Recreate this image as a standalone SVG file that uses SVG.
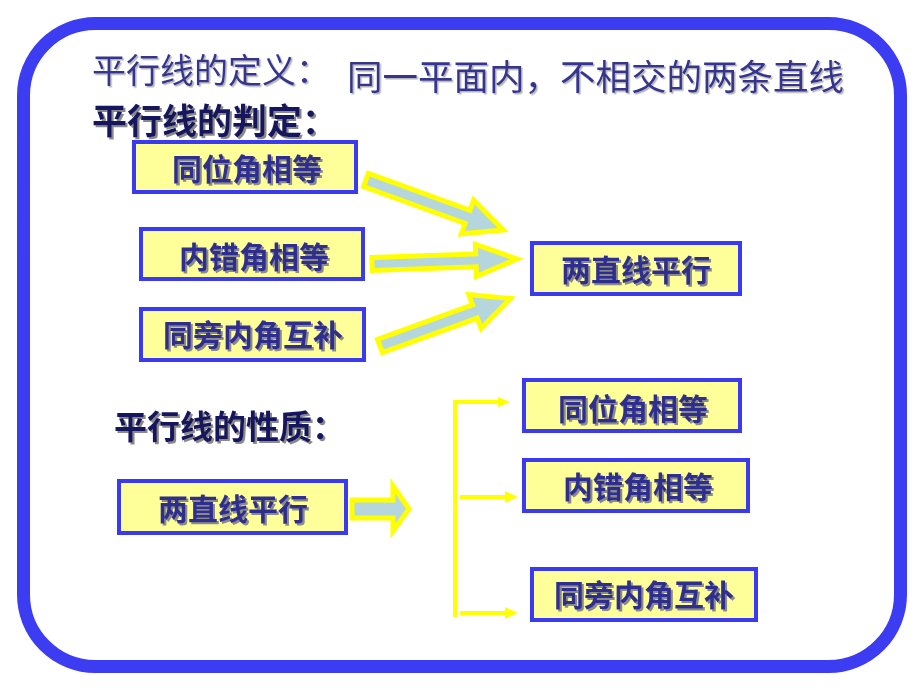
<svg xmlns="http://www.w3.org/2000/svg" width="920" height="690" viewBox="0 0 920 690">
<defs>
<filter id="sh" x="-10%" y="-20%" width="130%" height="150%">
<feDropShadow dx="2" dy="2" stdDeviation="0.4" flood-color="#8a8a8a" flood-opacity="1"/>
</filter>
<filter id="shl" x="-10%" y="-20%" width="130%" height="150%">
<feDropShadow dx="1.5" dy="1.5" stdDeviation="0.4" flood-color="#a0a0a0" flood-opacity="0.8"/>
</filter>
</defs>
<style>
.frame{fill:#fff;stroke:#3c3cf2;stroke-width:13}
.box{fill:#ffff99;stroke:#3a3af0;stroke-width:4}
.bt{font-family:"Noto Sans CJK SC","Noto Sans CJK TC",sans-serif;font-weight:bold;font-size:30px;fill:#2e2e8e;text-anchor:middle;filter:url(#sh)}
.hd{font-family:"Noto Sans CJK SC","Noto Sans CJK TC",sans-serif;font-weight:bold;fill:#14145e;filter:url(#sh)}
.tt{font-family:"Noto Sans CJK SC","Noto Sans CJK TC",sans-serif;font-weight:normal;fill:#36368f;filter:url(#shl)}
.fat{fill:#b6d6de;stroke:#ffff00;stroke-width:5;stroke-linejoin:miter}
.yl{stroke:#ffff00;stroke-width:4;fill:none}
.yh{fill:#ffff00}
</style>
<rect class="frame" x="23.5" y="23.5" width="877" height="643" rx="72" ry="72"/>
<g id="title">
<text class="tt" x="92" y="83" font-size="34">平行线的定义：</text>
<text class="tt" x="347" y="90" font-size="35.5">同一平面内，不相交的两条直线</text>
</g>
<g id="heading1"><text class="hd" x="92" y="134" font-size="35">平行线的判定：</text></g>
<g id="heading2"><text class="hd" x="114" y="439" font-size="33">平行线的性质：</text></g>
<g id="j1"><rect class="box" x="134" y="142" width="222" height="50"/><text class="bt" x="247" y="180">同位角相等</text></g>
<g id="j2"><rect class="box" x="141" y="229" width="222" height="50"/><text class="bt" x="254" y="268">内错角相等</text></g>
<g id="j3"><rect class="box" x="141" y="309" width="223" height="51"/><text class="bt" x="253" y="346">同旁内角互补</text></g>
<g id="t1"><rect class="box" x="532" y="243" width="208" height="51"/><text class="bt" x="636" y="281">两直线平行</text></g>
<g id="p0"><rect class="box" x="119" y="481" width="227" height="52"/><text class="bt" x="233" y="520">两直线平行</text></g>
<g id="p1"><rect class="box" x="524" y="380" width="216" height="51"/><text class="bt" x="633" y="420">同位角相等</text></g>
<g id="p2"><rect class="box" x="524" y="460" width="224" height="51"/><text class="bt" x="638" y="498">内错角相等</text></g>
<g id="p3"><rect class="box" x="532" y="569" width="224" height="51"/><text class="bt" x="644" y="606">同旁内角互补</text></g>
<g id="connectors">
<path class="fat" transform="translate(366,180) rotate(20)" d="M0,-7 L108,-7 L108,-18 L146,0 L108,18 L108,7 L0,7 Z"/>
<path class="fat" transform="translate(372,264) rotate(-2)" d="M0,-6.5 L104,-6.5 L104,-16 L145,0 L104,16 L104,6.5 L0,6.5 Z"/>
<path class="fat" transform="translate(380,346) rotate(-20)" d="M0,-7 L101,-7 L101,-18 L139,0 L101,18 L101,7 L0,7 Z"/>
<path class="fat" d="M352,500 L393,500 L393,486 L409,509 L393,531 L393,518 L352,518 Z"/>
<path class="yl" d="M455,617 L455,402 L500,402"/>
<path class="yh" d="M498,397 L510,402 L498,407 Z"/>
<path class="yl" d="M460,497 L507,497"/>
<path class="yh" d="M505,491 L518,497 L505,503 Z"/>
<path class="yl" d="M460,613 L507,613"/>
<path class="yh" d="M505,607 L518,613 L505,619 Z"/>
</g>
</svg>
